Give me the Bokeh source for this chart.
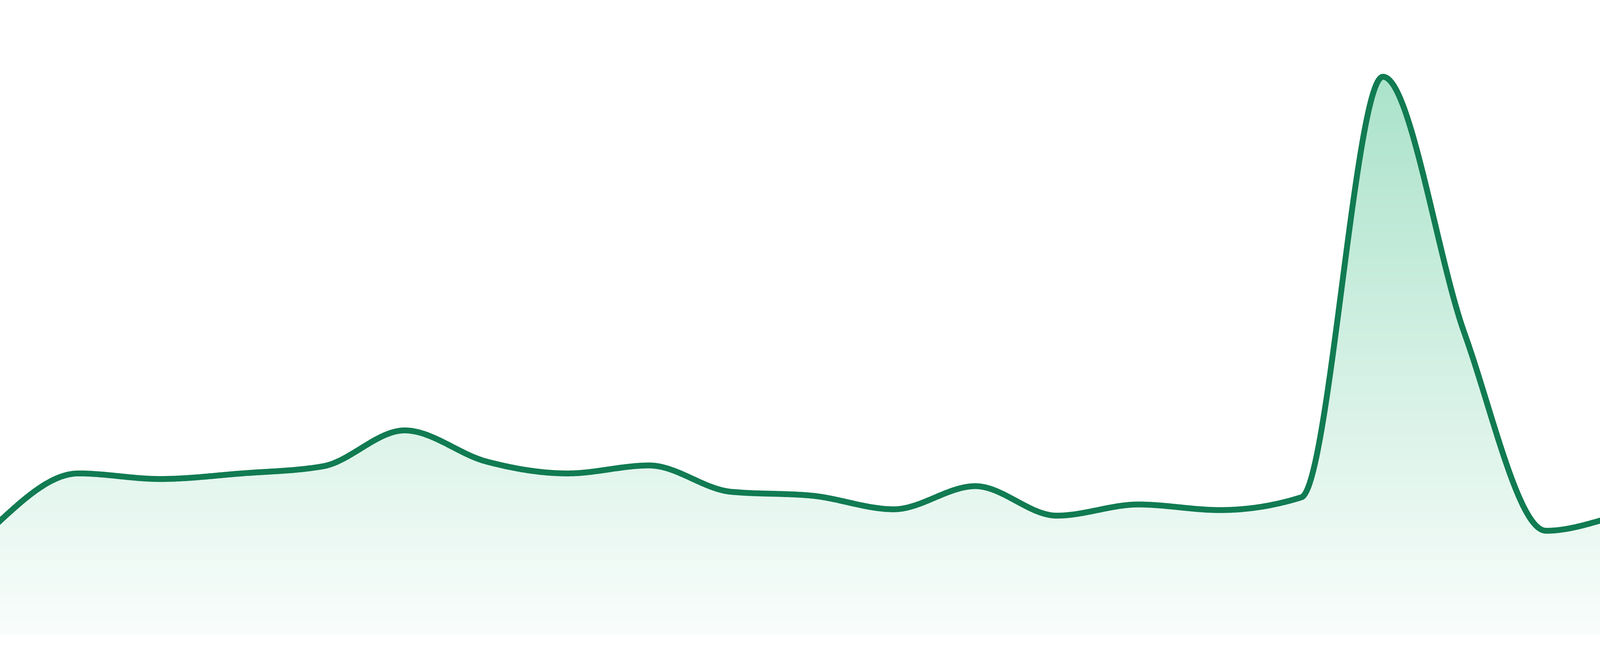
import numpy as np
from bokeh.plotting import figure
from bokeh.models import Range1d
from bokeh.embed import file_html
from bokeh.resources import INLINE

# ---- data ----
points = list(range(24))
values = [1.39, 2.02, 1.95, 2.02, 2.11, 2.56, 2.17, 2.02, 2.12, 1.79, 1.74, 1.57,
          1.86, 1.49, 1.63, 1.56, 1.72, 7.00, 3.78, 1.30, 1.52, 1.77, 1.41, 1.76]
y_max = 8.0

LINE_COLOR = "#117b52"
FILL_RGB = (5, 170, 100)


def monotone_x(x, y, n=60):
    """d3 curveMonotoneX style cubic through the points (rendering only)."""
    x = np.asarray(x, float)
    y = np.asarray(y, float)
    k = len(x)
    h = np.diff(x)
    s = np.diff(y) / h
    t = np.zeros(k)
    for i in range(1, k - 1):
        h0, h1, s0, s1 = h[i - 1], h[i], s[i - 1], s[i]
        p = (s0 * h1 + s1 * h0) / (h0 + h1)
        t[i] = (np.sign(s0) + np.sign(s1)) * min(abs(s0), abs(s1), 0.5 * abs(p))
    t[0] = (3 * s[0] - t[1]) / 2
    t[-1] = (3 * s[-1] - t[-2]) / 2
    xs, ys = [], []
    u = np.linspace(0, 1, n, endpoint=False)
    for i in range(k - 1):
        dx = h[i] / 3
        P0 = (x[i], y[i])
        P1 = (x[i] + dx, y[i] + dx * t[i])
        P2 = (x[i + 1] - dx, y[i + 1] - dx * t[i + 1])
        P3 = (x[i + 1], y[i + 1])
        b0 = (1 - u) ** 3
        b1 = 3 * (1 - u) ** 2 * u
        b2 = 3 * (1 - u) * u ** 2
        b3 = u ** 3
        xs.append(b0 * P0[0] + b1 * P1[0] + b2 * P2[0] + b3 * P3[0])
        ys.append(b0 * P0[1] + b1 * P1[1] + b2 * P2[1] + b3 * P3[1])
    xs.append(np.array([x[-1]]))
    ys.append(np.array([y[-1]]))
    return np.concatenate(xs), np.concatenate(ys)


W, H = 4800, 1632

p = figure(width=W, height=H, output_backend="svg", toolbar_location=None,
           x_range=Range1d(points[0], points[-1]),
           y_range=Range1d(0, y_max),
           min_border=0, outline_line_color=None, background_fill_color="white",
           border_fill_color="white")
p.styles = {"margin-left": "-8px", "margin-top": "-8px"}
p.xaxis.visible = False
p.yaxis.visible = False
p.grid.visible = False

cx, cy = monotone_x(points, values)

# vertical gradient fill made of horizontal bands
nb = 160
edges = np.linspace(0, y_max, nb + 1)
for j in range(nb):
    lo, hi = edges[j], edges[j + 1]
    if cy.max() <= lo:
        continue
    mid = 0.5 * (lo + hi)
    a = 0.024 + 0.0449 * mid
    rgb = tuple(int(round(255 - a * (255 - c))) for c in FILL_RGB)
    color = "#%02x%02x%02x" % rgb
    y1 = np.clip(cy, lo, hi + 0.004)
    p.varea(x=cx, y1=y1, y2=np.full_like(cx, lo), fill_color=color, fill_alpha=1.0)

p.line(cx, cy, line_color=LINE_COLOR, line_width=15, line_join="round", line_cap="round")

open("out.html", "w").write(file_html(p, INLINE))
